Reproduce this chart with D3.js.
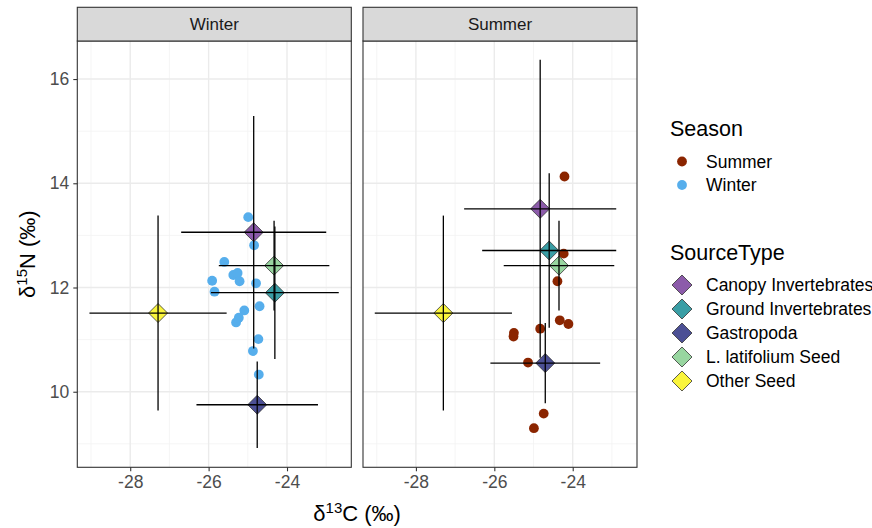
<!DOCTYPE html>
<html>
<head>
<meta charset="utf-8">
<script src="https://cdn.jsdelivr.net/npm/d3@7"></script>
<style>
  body { margin: 0; background: #fff; }
  svg { display: block; font-family: "Liberation Sans", Arial, sans-serif; }
</style>
</head>
<body>
<div id="chart"></div>
<script>
// consumer isotope values, one point per sample
const winterC = [-24.99, -24.84, -25.60, -25.91, -25.85, -25.37, -25.26, -25.21, -24.79, -24.70, -25.09, -25.30, -25.23, -24.73, -24.87, -24.72];
const winterN = [13.35, 12.81, 12.49, 12.13, 11.92, 12.24, 12.28, 12.12, 12.08, 11.64, 11.56, 11.33, 11.42, 11.01, 10.78, 10.33];
const summerC = [-24.21, -24.23, -24.39, -24.33, -24.11, -24.83, -25.50, -25.51, -25.14, -24.74, -24.99];
const summerN = [14.13, 12.65, 12.12, 11.37, 11.30, 11.21, 11.13, 11.06, 10.56, 9.58, 9.30];

// source means and sd (per season)
const sourceTypes = ["Canopy Invertebrates", "Ground Invertebrates", "Gastropoda", "L. latifolium Seed", "Other Seed"];
const sourceColors = ["#8C5BAA", "#3A9EA5", "#4C5095", "#98D6A0", "#FAF53C"];
const winterSrcC = [-24.85, -24.31, -24.76, -24.33, -27.29];
const winterSrcCsd = [1.85, 1.63, 1.55, 1.41, 1.75];
const winterSrcN = [13.06, 11.90, 9.75, 12.42, 11.51];
const winterSrcNsd = [2.23, 1.27, 0.83, 0.86, 1.87];
const summerSrcC = [-24.83, -24.60, -24.70, -24.35, -27.30];
const summerSrcCsd = [1.94, 1.71, 1.40, 1.41, 1.75];
const summerSrcN = [13.51, 12.71, 10.55, 12.42, 11.51];
const summerSrcNsd = [2.86, 1.48, 0.77, 0.86, 1.87];

const panels = ["Winter", "Summer"];
const seasonLegend = ["Summer", "Winter"];
const seasonColors = {Summer: "#8B2500", Winter: "#56AEEC"};

const xTicks = [-28, -26, -24];
const yTicks = [10, 12, 14, 16];

const W = 872, H = 528;
const panelW = 274, panelTop = 41, panelH = 426.3, stripTop = 7.3;
const panelX = [77.3, 363];

const svg = d3.select("#chart").append("svg")
    .attr("width", W)
    .attr("height", H);

const x = d3.scaleLinear().domain([-29.35, -22.36]).range([0, panelW]);
const y = d3.scaleLinear().domain([8.55, 16.73]).range([panelH, 0]);

function diamond(r) {
    return `M0,${-r}L${r},0L0,${r}L${-r},0Z`;
}

const panelData = {
    Winter: {
        c: winterC, n: winterN,
        sc: winterSrcC, scsd: winterSrcCsd, sn: winterSrcN, snsd: winterSrcNsd
    },
    Summer: {
        c: summerC, n: summerN,
        sc: summerSrcC, scsd: summerSrcCsd, sn: summerSrcN, snsd: summerSrcNsd
    }
};

panels.forEach((name, i) => {
    const g = svg.append("g").attr("transform", `translate(${panelX[i]},${panelTop})`);
    const d = panelData[name];

    g.append("rect")
        .attr("width", panelW).attr("height", panelH)
        .attr("fill", "#fff");

    // minor grid
    const minorX = [-29, -27, -25, -23];
    const minorY = [9, 11, 13, 15];
    g.selectAll(".mx").data(minorX).join("line")
        .attr("x1", v => x(v)).attr("x2", v => x(v))
        .attr("y1", 0).attr("y2", panelH)
        .attr("stroke", "#F2F2F2").attr("stroke-width", 0.8);
    g.selectAll(".my").data(minorY).join("line")
        .attr("y1", v => y(v)).attr("y2", v => y(v))
        .attr("x1", 0).attr("x2", panelW)
        .attr("stroke", "#F2F2F2").attr("stroke-width", 0.8);

    // major grid
    g.append("g").selectAll("line").data(xTicks).join("line")
        .attr("x1", v => x(v)).attr("x2", v => x(v))
        .attr("y1", 0).attr("y2", panelH)
        .attr("stroke", "#EBEBEB").attr("stroke-width", 1.4);
    g.append("g").selectAll("line").data(yTicks).join("line")
        .attr("y1", v => y(v)).attr("y2", v => y(v))
        .attr("x1", 0).attr("x2", panelW)
        .attr("stroke", "#EBEBEB").attr("stroke-width", 1.4);

    // consumer points
    g.append("g").selectAll("circle").data(d.c).join("circle")
        .attr("cx", (v, k) => x(v))
        .attr("cy", (v, k) => y(d.n[k]))
        .attr("r", 4.9)
        .attr("fill", seasonColors[name]);

    // sources
    const src = sourceTypes.map((s, k) => ({
        type: s, color: sourceColors[k],
        c: d.sc[k], csd: d.scsd[k], n: d.sn[k], nsd: d.snsd[k]
    }));

    g.append("g").selectAll("path").data(src).join("path")
        .attr("d", diamond(9.5))
        .attr("transform", s => `translate(${x(s.c)},${y(s.n)})`)
        .attr("fill", s => s.color)
        .attr("stroke", "#333")
        .attr("stroke-width", 0.8);

    const eb = g.append("g").attr("stroke", "#000").attr("stroke-width", 1.3);
    eb.selectAll(".h").data(src).join("line")
        .attr("x1", s => x(s.c - s.csd)).attr("x2", s => x(s.c + s.csd))
        .attr("y1", s => y(s.n)).attr("y2", s => y(s.n));
    eb.selectAll(".v").data(src).join("line")
        .attr("x1", s => x(s.c)).attr("x2", s => x(s.c))
        .attr("y1", s => y(s.n - s.nsd)).attr("y2", s => y(s.n + s.nsd));

    // border
    g.append("rect")
        .attr("width", panelW).attr("height", panelH)
        .attr("fill", "none").attr("stroke", "#333").attr("stroke-width", 1.1);

    // strip
    const strip = svg.append("g").attr("transform", `translate(${panelX[i]},${stripTop})`);
    strip.append("rect")
        .attr("width", panelW).attr("height", panelTop - stripTop)
        .attr("fill", "#D9D9D9").attr("stroke", "#333").attr("stroke-width", 1.1);
    strip.append("text")
        .attr("x", panelW / 2).attr("y", (panelTop - stripTop) / 2)
        .attr("dy", "0.35em")
        .attr("text-anchor", "middle")
        .attr("font-size", 17)
        .attr("fill", "#1A1A1A")
        .text(name);

    // x axis
    const xa = g.append("g").attr("transform", `translate(0,${panelH})`)
        .call(d3.axisBottom(x).tickValues(xTicks).tickSize(4).tickPadding(4).tickFormat(d3.format("d")));
    xa.select(".domain").remove();
    xa.selectAll("line").attr("stroke", "#333").attr("stroke-width", 1.1);
    xa.selectAll("text").attr("font-size", 17.5).attr("fill", "#4D4D4D")
        .attr("font-family", "Liberation Sans, Arial, sans-serif")
        .text(v => "-" + Math.abs(v));

    if (i === 0) {
        const ya = g.append("g")
            .call(d3.axisLeft(y).tickValues(yTicks).tickSize(4).tickPadding(4));
        ya.select(".domain").remove();
        ya.selectAll("line").attr("stroke", "#333").attr("stroke-width", 1.1);
        ya.selectAll("text").attr("font-size", 17.5).attr("fill", "#4D4D4D")
            .attr("font-family", "Liberation Sans, Arial, sans-serif");
    }
});

// axis titles
const xt = svg.append("text")
    .attr("x", (panelX[0] + panelX[1] + panelW) / 2)
    .attr("y", 521)
    .attr("text-anchor", "middle")
    .attr("font-size", 22)
    .attr("fill", "#000");
xt.append("tspan").text("δ");
xt.append("tspan").attr("dy", -8).attr("font-size", 15).text("13");
xt.append("tspan").attr("dy", 8).text("C (‰)");

const yt = svg.append("text")
    .attr("transform", `translate(35,${panelTop + panelH / 2}) rotate(-90)`)
    .attr("text-anchor", "middle")
    .attr("font-size", 22)
    .attr("fill", "#000");
yt.append("tspan").text("δ");
yt.append("tspan").attr("dy", -8).attr("font-size", 15).text("15");
yt.append("tspan").attr("dy", 8).text("N (‰)");

// legends
const lg = svg.append("g").attr("transform", "translate(670,0)");
lg.append("text").attr("x", 0).attr("y", 136).attr("font-size", 21.5).text("Season");
lg.selectAll(".sk").data(seasonLegend).join("circle")
    .attr("cx", 12).attr("cy", (s, k) => 161.5 + k * 23.5)
    .attr("r", 4.9).attr("fill", s => seasonColors[s]);
lg.selectAll(".sl").data(seasonLegend).join("text")
    .attr("x", 36).attr("y", (s, k) => 161.5 + k * 23.5).attr("dy", "0.35em")
    .attr("font-size", 17.5).text(s => s);

lg.append("text").attr("x", 0).attr("y", 260).attr("font-size", 21.5).text("SourceType");
lg.selectAll(".dk").data(sourceTypes).join("path")
    .attr("d", diamond(10))
    .attr("transform", (s, k) => `translate(12,${285 + k * 24})`)
    .attr("fill", (s, k) => sourceColors[k])
    .attr("stroke", "#333").attr("stroke-width", 0.8);
lg.selectAll(".dl").data(sourceTypes).join("text")
    .attr("x", 36).attr("y", (s, k) => 285 + k * 24).attr("dy", "0.35em")
    .attr("font-size", 17.5).text(s => s);
</script>
</body>
</html>
